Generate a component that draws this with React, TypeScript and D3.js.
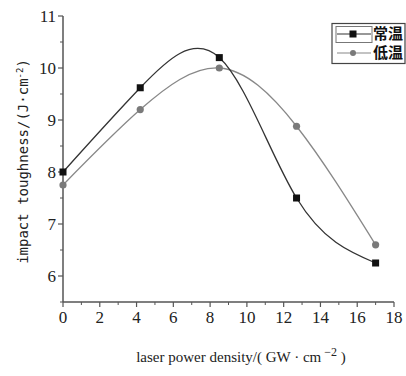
import React from "react";
import * as d3 from "d3";

// laser power density (GW·cm^-2)
const xValues = [0, 4.2, 8.5, 12.7, 17];
// impact toughness (J·cm^-2)
const roomTemp = [8.0, 9.62, 10.2, 7.5, 6.25];
const lowTemp = [7.75, 9.2, 10.0, 8.88, 6.6];

const xTicks = [0, 2, 4, 6, 8, 10, 12, 14, 16, 18];
const yTicks = [6, 7, 8, 9, 10, 11];
const seriesNames = ["常温", "低温"];

const W = 406;
const H = 376;
const margin = { left: 63, right: 12, top: 16, bottom: 74 };

const App: React.FC = () => {
  const x = d3.scaleLinear().domain([0, 18]).range([margin.left, 394]);
  const y = d3.scaleLinear().domain([5.5, 11]).range([H - margin.bottom, margin.top]);

  const line = d3
    .line<number>()
    .x((_, i) => x(xValues[i]))
    .y((d) => y(d))
    .curve(d3.curveNatural);

  const xMinor = d3.range(1, 18, 2);
  const yMinor = d3.range(5.5, 11, 1);
  const axisColor = "#555";

  return (
    <svg
      width={W}
      height={H}
      style={{ position: "absolute", left: 0, top: 0, background: "#fff" }}
    >
      {/* axes */}
      <line x1={x(0)} x2={x(0)} y1={y(5.5)} y2={y(11)} stroke={axisColor} strokeWidth={1.5} />
      <line x1={x(0)} x2={x(18)} y1={y(5.5)} y2={y(5.5)} stroke={axisColor} strokeWidth={1.5} />

      {yTicks.map((t) => (
        <g key={"y" + t}>
          <line x1={x(0) - 5} x2={x(0)} y1={y(t)} y2={y(t)} stroke={axisColor} strokeWidth={1.2} />
          <text
            x={x(0) - 7}
            y={y(t)}
            dy="0.35em"
            textAnchor="end"
            fontFamily="Liberation Serif"
            fontSize={17}
            fill="#222"
          >
            {t}
          </text>
        </g>
      ))}
      {yMinor.map((t) => (
        <line key={"ym" + t} x1={x(0) - 3} x2={x(0)} y1={y(t)} y2={y(t)} stroke={axisColor} strokeWidth={1} />
      ))}

      {xTicks.map((t) => (
        <g key={"x" + t}>
          <line x1={x(t)} x2={x(t)} y1={y(5.5)} y2={y(5.5) + 5} stroke={axisColor} strokeWidth={1.2} />
          <text
            x={x(t)}
            y={y(5.5) + 21}
            textAnchor="middle"
            fontFamily="Liberation Serif"
            fontSize={17}
            fill="#222"
          >
            {t}
          </text>
        </g>
      ))}
      {xMinor.map((t) => (
        <line key={"xm" + t} x1={x(t)} x2={x(t)} y1={y(5.5)} y2={y(5.5) + 3} stroke={axisColor} strokeWidth={1} />
      ))}

      {/* curves */}
      <path d={line(lowTemp) || ""} fill="none" stroke="#888" strokeWidth={1.3} />
      <path d={line(roomTemp) || ""} fill="none" stroke="#333" strokeWidth={1.3} />

      {lowTemp.map((v, i) => (
        <circle key={"c" + i} cx={x(xValues[i])} cy={y(v)} r={3.6} fill="#7a7a7a" />
      ))}
      {roomTemp.map((v, i) => (
        <rect key={"s" + i} x={x(xValues[i]) - 3.5} y={y(v) - 3.5} width={7} height={7} fill="#111" />
      ))}

      {/* legend */}
      <g>
        <rect x={332} y={23.5} width={73} height={40} fill="#fff" stroke="#444" strokeWidth={1.2} />
        <rect x={336} y={26.5} width={36} height={16} fill="none" stroke="#777" strokeWidth={1} />
        <line x1={337} x2={371} y1={34} y2={34} stroke="#333" strokeWidth={1.2} />
        <rect x={349.5} y={30.5} width={7} height={7} fill="#111" />
        <text x={373} y={34} dy="0.36em" fontFamily="Noto Sans CJK SC" fontWeight="bold" fontSize={15} fill="#111">
          {seriesNames[0]}
        </text>
        <line x1={337} x2={371} y1={53} y2={53} stroke="#888" strokeWidth={1.2} />
        <circle cx={353} cy={53} r={3} fill="#7a7a7a" />
        <text x={373} y={53} dy="0.36em" fontFamily="Noto Sans CJK SC" fontWeight="bold" fontSize={15} fill="#111">
          {seriesNames[1]}
        </text>
      </g>

      {/* axis titles */}
      <text
        transform={`translate(23,${(55 + 268) / 2}) rotate(-90)`}
        textAnchor="middle"
        dy="0.35em"
        fontFamily="DejaVu Sans Mono"
        fontSize={14}
        fill="#222"
      >
        impact toughness/(J·cm
        <tspan dy="-5" fontSize={9}>-2</tspan>
        <tspan dy="5">)</tspan>
      </text>
      <text
        x={241}
        y={362}
        textAnchor="middle"
        fontFamily="Liberation Serif"
        fontSize={15}
        fill="#222"
      >
        laser power density/( GW · cm
        <tspan dy="-6" fontSize={12}> −2</tspan>
        <tspan dy="6"> )</tspan>
      </text>
    </svg>
  );
};

export default App;
